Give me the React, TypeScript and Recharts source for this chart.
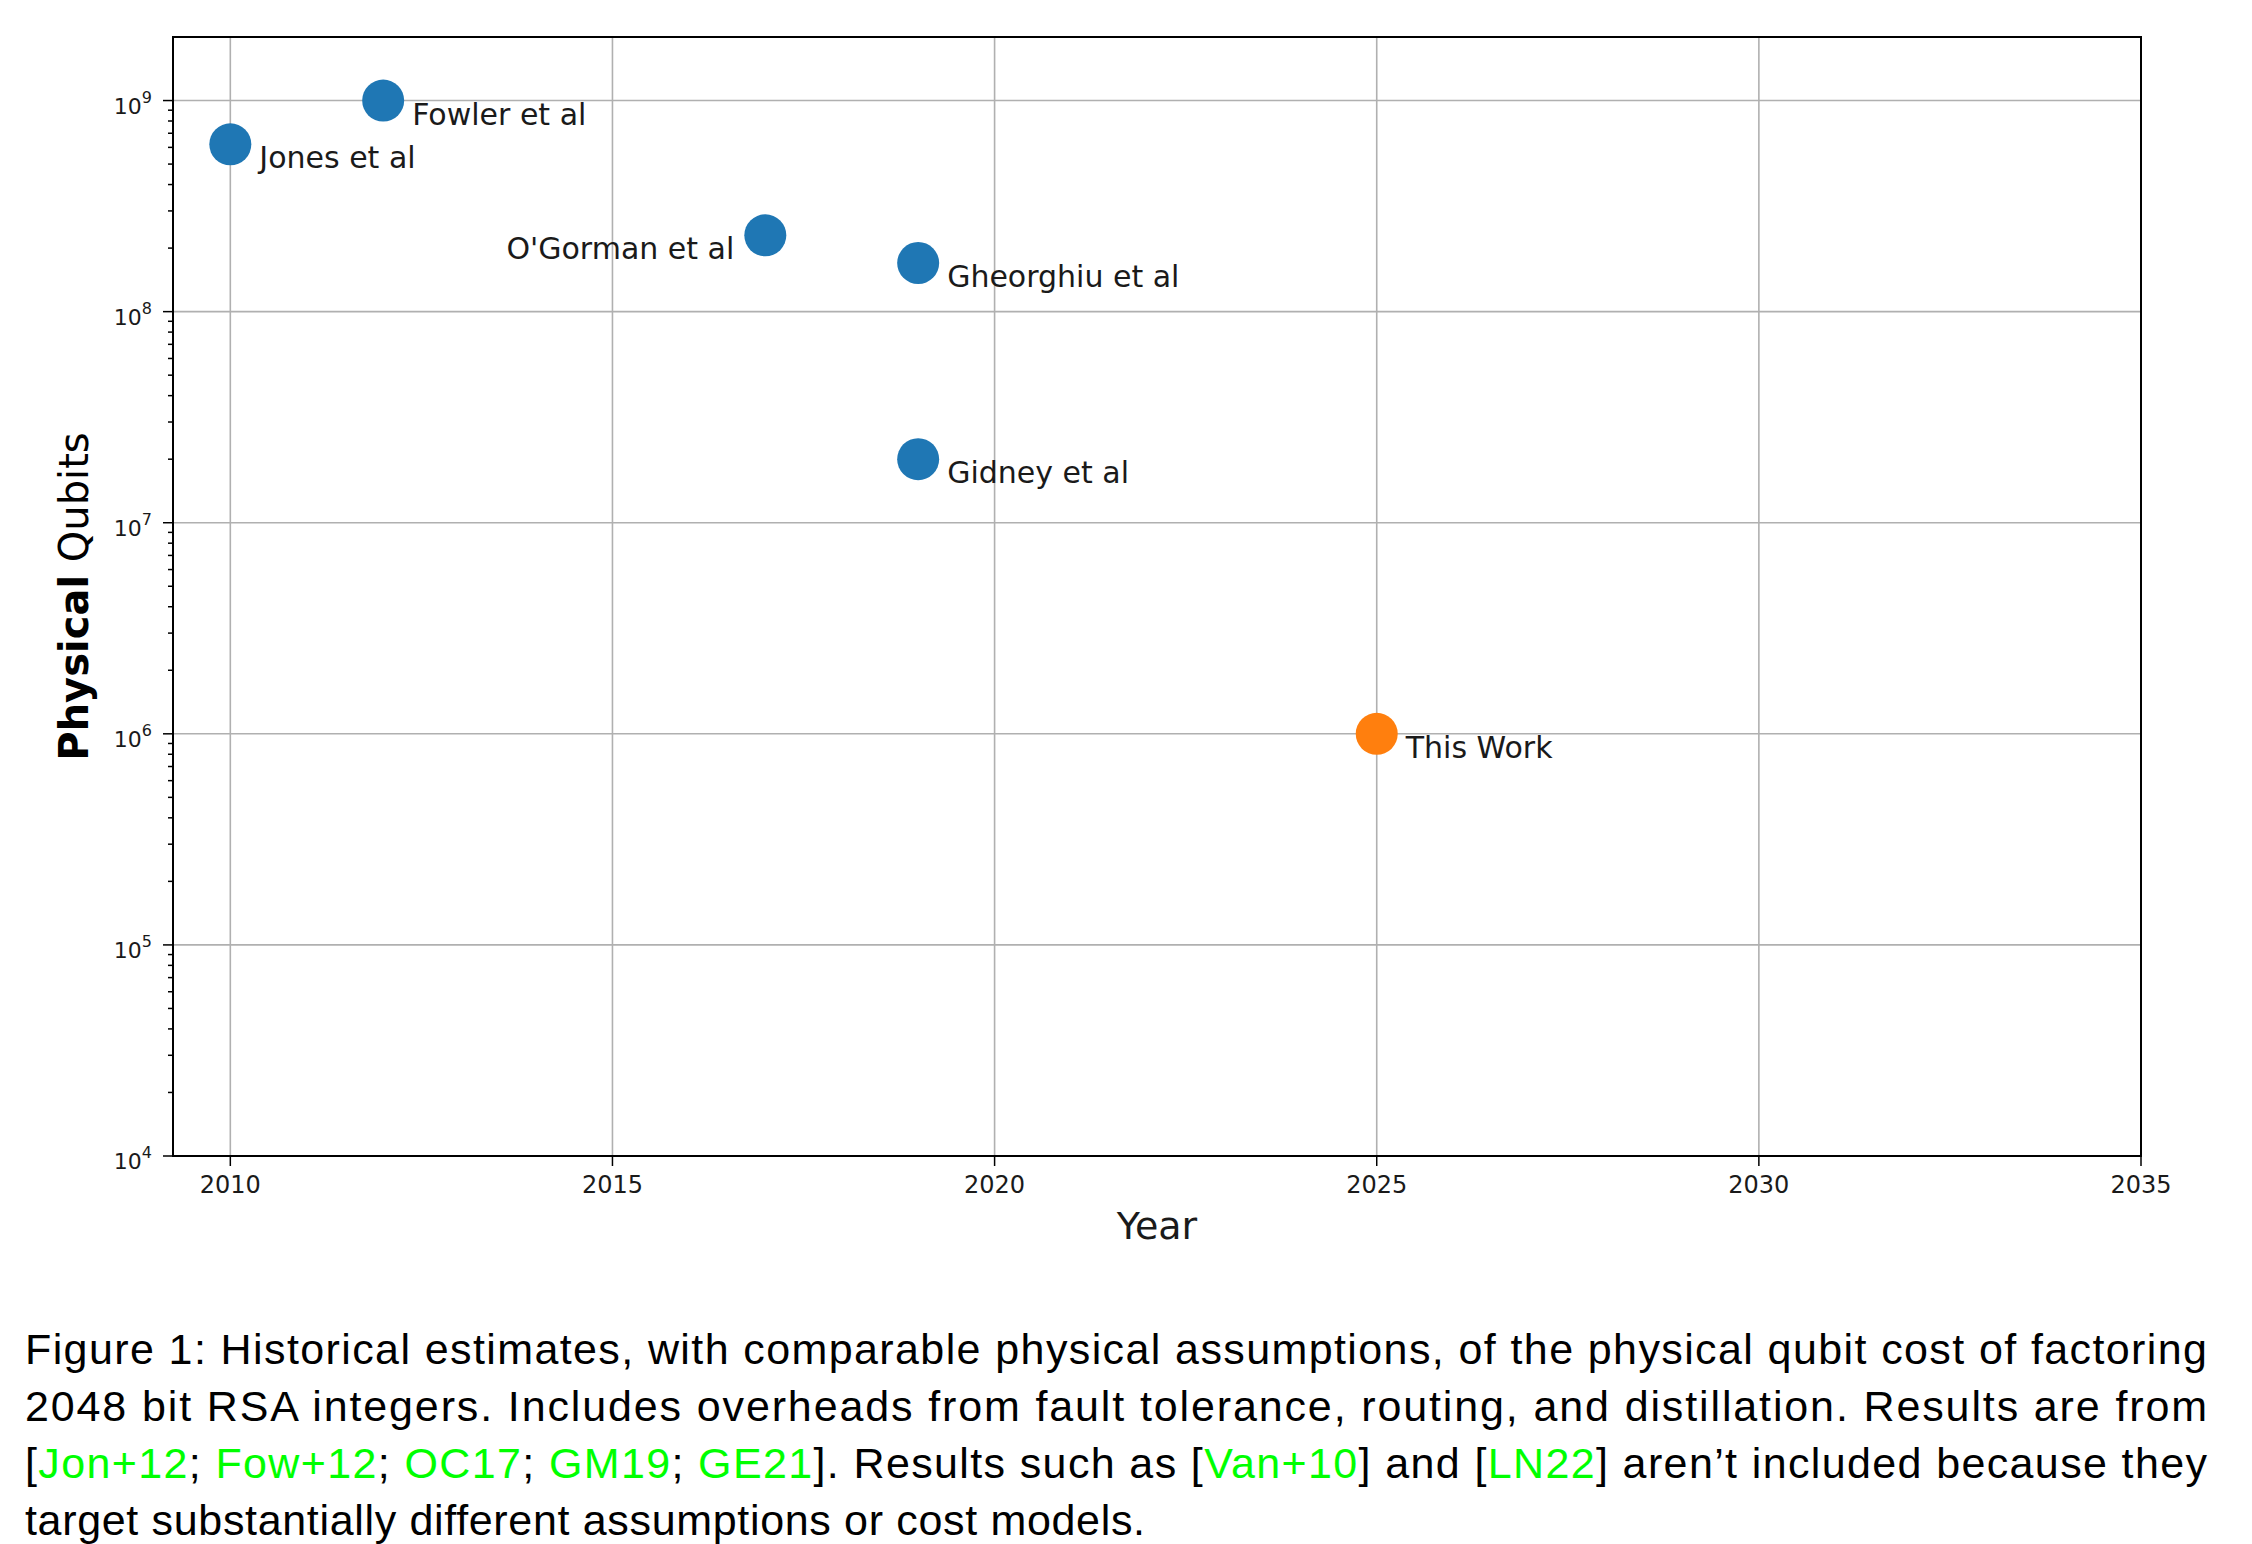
import { ScatterChart, Scatter, XAxis, YAxis, CartesianGrid, ReferenceArea } from "recharts";

// prior estimates (blue)
const priorYears = [2010, 2012, 2017, 2019, 2019];
const priorQubits = [6.2e8, 1.0e9, 2.3e8, 1.7e8, 2.0e7];
const priorLabels = ["Jones et al", "Fowler et al", "O'Gorman et al", "Gheorghiu et al", "Gidney et al"];

// this work (orange)
const workYears = [2025];
const workQubits = [1.0e6];
const workLabels = ["This Work"];

// labels drawn on the left of their dot
const leftLabels = ["O'Gorman et al"];

const xTicks = [2010, 2015, 2020, 2025, 2030, 2035];
const yMajor = [1e4, 1e5, 1e6, 1e7, 1e8, 1e9];
const yMinorSteps = [2, 3, 4, 5, 6, 7, 8, 9];
const xDomain = [2009.25, 2035];
const yDomain = [1e4, 2e9];

const yMinor = yMajor.flatMap((m) => yMinorSteps.map((s) => m * s)).filter((v) => v < yDomain[1]);
const yTicks = [...yMajor, ...yMinor].sort((a, b) => a - b);

const prior = priorYears.map((year, i) => ({ year, qubits: priorQubits[i], label: priorLabels[i] }));
const work = workYears.map((year, i) => ({ year, qubits: workQubits[i], label: workLabels[i] }));

const FONT = "DejaVu Sans";
const INK = "#1a1a1a";

function makeDot(color: string) {
  return (props: any) => {
    const { cx, cy, payload } = props;
    const left = leftLabels.includes(payload.label);
    return (
      <g>
        <circle cx={cx} cy={cy} r={21} fill={color} />
        <text
          x={left ? cx - 31 : cx + 29}
          y={cy + 24}
          textAnchor={left ? "end" : "start"}
          fontSize={30}
          fontFamily={FONT}
          fill={INK}
        >
          {payload.label}
        </text>
      </g>
    );
  };
}

function YTick(props: any) {
  const { x, y, payload } = props;
  const v = payload.value;
  const exp = Math.round(Math.log10(v));
  const major = Math.abs(v - Math.pow(10, exp)) < v * 1e-6;
  return (
    <g>
      <line x1={x - (major ? 10 : 5)} x2={x} y1={y} y2={y} stroke="#000" strokeWidth={1.5} />
      {major && (
        <text x={x - 21} y={y + 13} textAnchor="end" fontSize={22} fontFamily={FONT} fill={INK}>
          <tspan>10</tspan>
          <tspan dy={-11} fontSize={16}>{exp}</tspan>
        </text>
      )}
    </g>
  );
}

function Caption() {
  const green = "#00ff00";
  const common = { x: 25, fontSize: 43, fontFamily: "Liberation Sans", fill: "#000", lengthAdjust: "spacing" as const };
  return (
    <svg width={2252} height={254} style={{ position: "absolute", left: 0, top: 1290 }}>
      <text {...common} y={74} textLength={2182}>
        Figure 1: Historical estimates, with comparable physical assumptions, of the physical qubit cost of factoring
      </text>
      <text {...common} y={131} textLength={2182}>
        2048 bit RSA integers. Includes overheads from fault tolerance, routing, and distillation. Results are from
      </text>
      <text {...common} y={188} textLength={2182}>
        [<tspan fill={green}>Jon+12</tspan>; <tspan fill={green}>Fow+12</tspan>; <tspan fill={green}>OC17</tspan>;{" "}
        <tspan fill={green}>GM19</tspan>; <tspan fill={green}>GE21</tspan>]. Results such as [
        <tspan fill={green}>Van+10</tspan>] and [<tspan fill={green}>LN22</tspan>] aren’t included because they
      </text>
      <text {...common} y={245} textLength={1120}>
        target substantially different assumptions or cost models.
      </text>
    </svg>
  );
}

export default function App() {
  return (
    <div style={{ position: "relative", width: 2252, height: 1544, background: "#fff" }}>
      <style>{"body{margin:0}"}</style>
      <ScatterChart width={2252} height={1290} margin={{ top: 37, right: 111, bottom: 0, left: 0 }}>
        <CartesianGrid stroke="#b0b0b0" strokeWidth={1.6} horizontalValues={yMajor} verticalValues={xTicks} />
        <XAxis
          type="number"
          dataKey="year"
          domain={xDomain}
          ticks={xTicks}
          allowDataOverflow
          height={134}
          tickSize={10}
          tickMargin={10}
          tickLine={{ stroke: "#000", strokeWidth: 1.5 }}
          axisLine={{ stroke: "#000", strokeWidth: 2 }}
          tick={{ fontSize: 24, fontFamily: FONT, fill: INK }}
          interval={0}
          label={{
            content: ({ viewBox }: any) => (
              <text
                x={viewBox.x + viewBox.width / 2}
                y={viewBox.y + 83}
                textAnchor="middle"
                fontSize={38}
                fontFamily={FONT}
                fill={INK}
              >
                Year
              </text>
            ),
          }}
        />
        <YAxis
          type="number"
          dataKey="qubits"
          scale="log"
          domain={yDomain}
          ticks={yTicks}
          allowDataOverflow
          width={173}
          tickSize={0}
          tickMargin={0}
          tickLine={false}
          interval={0}
          axisLine={{ stroke: "#000", strokeWidth: 2 }}
          tick={<YTick />}
          label={{
            content: ({ viewBox }: any) => {
              const cy = viewBox.y + viewBox.height / 2;
              return (
                <text
                  x={88}
                  y={cy}
                  transform={`rotate(-90, 88, ${cy})`}
                  textAnchor="middle"
                  fontSize={40}
                  fontFamily={FONT}
                  fill="#000"
                >
                  <tspan fontWeight="bold">Physical</tspan> Qubits
                </text>
              );
            },
          }}
        />
        <Scatter data={prior} fill="#1f77b4" shape={makeDot("#1f77b4")} isAnimationActive={false} />
        <Scatter data={work} fill="#ff7f0e" shape={makeDot("#ff7f0e")} isAnimationActive={false} />
        <ReferenceArea
          x1={xDomain[0]}
          x2={xDomain[1]}
          y1={yDomain[0]}
          y2={yDomain[1]}
          fill="none"
          fillOpacity={0}
          stroke="#000"
          strokeWidth={2}
          ifOverflow="visible"
        />
      </ScatterChart>
      <Caption />
    </div>
  );
}
